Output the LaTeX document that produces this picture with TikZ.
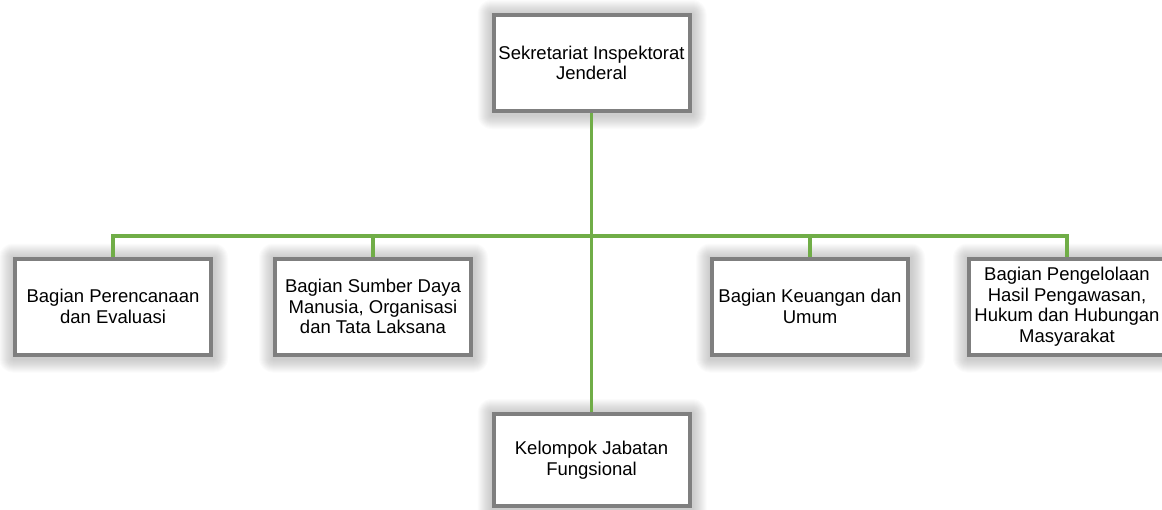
\documentclass[tikz,border=0pt]{standalone}
\usepackage{fontspec}
\setmainfont{Liberation Sans}
\usetikzlibrary{backgrounds}
\definecolor{linegreen}{HTML}{70AD47}
\definecolor{boxgray}{HTML}{7F7F7F}
\tikzset{
  orgbox/.style={draw=boxgray, line width=4pt, fill=white, minimum width=196pt,
    minimum height=96pt, align=center, inner sep=2pt,
    font=\fontsize{18.5}{20.5}\selectfont},
  link/.style={draw=linegreen, line width=3.5pt}
}
\begin{document}
\begin{tikzpicture}[x=1pt, y=-1pt]
\useasboundingbox (0,0) rectangle (1162,509);
\begin{scope}
\clip (0,0) rectangle (1162,509);
\node[orgbox] (top) at (591.5,63) {Sekretariat Inspektorat\\Jenderal};
\node[orgbox] (b1) at (113,306.5) {Bagian Perencanaan\\dan Evaluasi};
\node[orgbox] (b2) at (373,306.5) {Bagian Sumber Daya\\Manusia, Organisasi\\dan Tata Laksana};
\node[orgbox] (b4) at (810,306.5) {Bagian Keuangan dan\\Umum};
\node[orgbox] (b5) at (1067,306.5) {Bagian Pengelolaan\\Hasil Pengawasan,\\Hukum dan Hubungan\\Masyarakat};
\node[orgbox, minimum height=92pt] (fung) at (591.5,460) {Kelompok Jabatan\\Fungsional};
\coordinate (hub) at (591,236);
\begin{scope}[on background layer]
  \foreach \n in {top,b1,b2,b4,b5,fung}{
    \foreach \k in {1,2,...,14}{
      \fill[black, opacity=0.014, rounded corners=\k pt]
        ([shift={(-\k pt,\k pt-1pt)}]\n.north west) rectangle ([shift={(\k pt+1pt,-\k pt-2pt)}]\n.south east);
    }
  }
  \path[link] (top.south) -- (fung.north);
  \path[link] (b1.north) |- (hub) -| (b5.north);
  \path[link] (b2.north) -- (b2.north |- hub);
  \path[link] (b4.north) -- (b4.north |- hub);
\end{scope}
\end{scope}
\end{tikzpicture}
\end{document}
